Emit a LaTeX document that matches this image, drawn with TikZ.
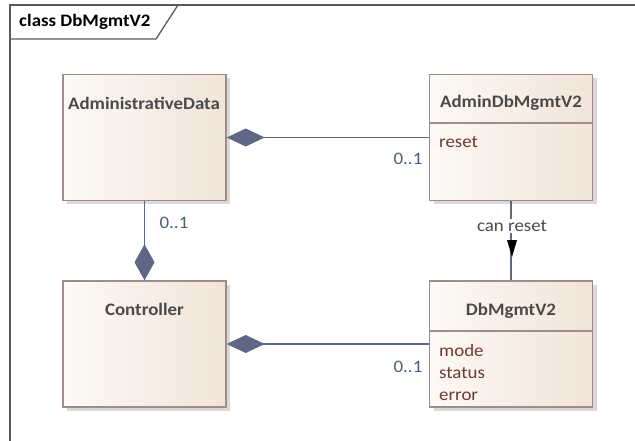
\documentclass[tikz,border=0pt]{standalone}
\usepackage{fontspec}
\setmainfont{Carlito}[FakeStretch=1.08]
\usetikzlibrary{arrows.meta,shadows}
\definecolor{frameC}{HTML}{5A5A5A}
\definecolor{boxL}{HTML}{FDF9F5}
\definecolor{boxR}{HTML}{F2E4D8}
\definecolor{boxB}{HTML}{A08C8C}
\definecolor{lineC}{HTML}{5E6886}
\definecolor{titleC}{HTML}{4A4A4A}
\definecolor{attrC}{HTML}{6B3A30}
\definecolor{multC}{HTML}{4A5E7E}
\tikzset{
  classbox/.style={rectangle, draw=boxB, line width=1.4pt, left color=boxL, right color=boxR,
    minimum width=163pt, minimum height=126pt, inner sep=0pt,
    drop shadow={shadow xshift=4pt, shadow yshift=-4pt, fill=black!15, opacity=1}},
  ctitle/.style={font=\fontsize{17.5}{19}\selectfont\bfseries, text=titleC, inner sep=0pt},
  cattr/.style={font=\fontsize{17.5}{19}\selectfont, text=attrC, inner sep=0pt, anchor=west},
  mult/.style={font=\fontsize{17.5}{19}\selectfont, text=multC, inner sep=0pt},
  lbl/.style={font=\fontsize{17.5}{19}\selectfont, text=titleC, fill=white, inner sep=1.5pt},
  sep/.style={draw=boxB, line width=1.4pt},
  assoc/.style={draw=lineC, line width=1.5pt},
  comp/.style={assoc, arrows={{Diamond[length=38pt,width=18pt,fill=lineC,color=lineC]}-}},
  compv/.style={assoc, arrows={{Diamond[length=36pt,width=20pt,fill=lineC,color=lineC]}-}},
}
\begin{document}
\begin{tikzpicture}[x=1pt,y=-1pt]
\useasboundingbox (0,0) rectangle (635,441);
% diagram frame and name tab
\draw[frameC, line width=2pt] (10,445) -- (10,5) -- (640,5);
\draw[frameC, line width=1.3pt] (10,39) -- (156,39) -- (178,5);
\node[font=\fontsize{17.5}{19}\selectfont\bfseries, text=black, inner sep=0pt, anchor=west] (frametitle) at (19,22) {class DbMgmtV2};

% classes
\node[classbox] (ad)  at (144.5,137.5) {};
\node[classbox] (amg) at (511,137.5) {};
\node[classbox] (ctl) at (144.5,344) {};
\node[classbox] (dbm) at (511,344) {};

\node[ctitle] (adt)  at (144,103) {AdministrativeData};
\node[ctitle] (amgt) at (511,103) {AdminDbMgmtV2};
\node[ctitle] (ctlt) at (144.5,309) {Controller};
\node[ctitle] (dbmt) at (511,311) {DbMgmtV2};

\draw[sep] (amg.west |- 0,123) -- (amg.east |- 0,123);
\draw[sep] (dbm.west |- 0,331) -- (dbm.east |- 0,331);

\node[cattr] (areset) at (439,142) {reset};
\node[cattr] (amode)   at (439,350) {mode};
\node[cattr] (astatus) at (439,373) {status};
\node[cattr] (aerror)  at (439,396) {error};

% associations
\draw[comp]  (ad.east)  -- (amg.west |- ad.east);
\draw[comp]  (ctl.east) -- (dbm.west |- ctl.east);
\draw[compv] (ctl.north) -- (ad.south);
\draw[assoc] (amg.south) -- (dbm.north);

\node[mult] (m1) at (408,159) {0..1};
\node[mult] (m2) at (408,367) {0..1};
\node[mult] (m3) at (174,223) {0..1};

\node[lbl] (canreset) at (512,226) {can reset};
\coordinate (dirtip) at (512,257);
\fill[black] (dirtip) -- ++(-5,-17) -- ++(10,0) -- cycle;
\end{tikzpicture}
\end{document}
